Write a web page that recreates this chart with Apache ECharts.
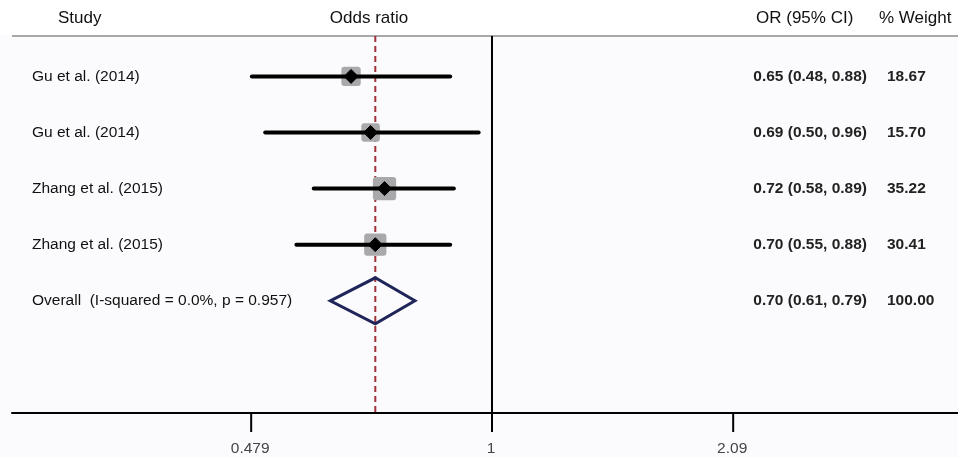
<!DOCTYPE html>
<html><head><meta charset="utf-8">
<script src="https://cdn.jsdelivr.net/npm/echarts@6/dist/echarts.min.js"></script>
<style>html,body{margin:0;padding:0;background:#fcfcfd;}#c{width:958px;height:457px;}</style>
</head><body><div id="c"></div>
<script>
const studies = ['Gu et al. (2014)', 'Gu et al. (2014)', 'Zhang et al. (2015)', 'Zhang et al. (2015)'];
const orValues = [0.65, 0.69, 0.72, 0.70];
const ciLower = [0.48, 0.50, 0.58, 0.55];
const ciUpper = [0.88, 0.96, 0.89, 0.88];
const weights = ['18.67', '15.70', '35.22', '30.41'];
const overallLabel = 'Overall  (I-squared = 0.0%, p = 0.957)';
const overall = { or: 0.70, lo: 0.61, hi: 0.79, weight: '100.00' };
const tickValues = [0.479, 1, 2.09];
const tickLabels = ['0.479', '1', '2.09'];

const fmt = (v) => v.toFixed(2);
const rows = studies.map((s, i) => [orValues[i], ciLower[i], ciUpper[i], i + 1, parseFloat(weights[i])]);
const ROW_MIN = 0.28, ROW_MAX = 7;
const FONT = '"Liberation Sans", Arial, sans-serif';

const chart = echarts.init(document.getElementById('c'), null, { renderer: 'canvas' });
chart.setOption({
  backgroundColor: '#fbfbfd',
  animation: false,
  grid: { left: 12, right: 0, top: 36, bottom: 44 },
  xAxis: {
    type: 'log', logBase: Math.E, min: 0.2306, max: 4.155,
    axisLine: { show: true, lineStyle: { color: '#000', width: 2 } },
    axisTick: { show: false }, axisLabel: { show: false }, splitLine: { show: false }
  },
  yAxis: { type: 'value', inverse: true, min: ROW_MIN, max: ROW_MAX, show: false },
  graphic: [
    { type: 'rect', shape: { x: 0, y: 0, width: 958, height: 35 }, style: { fill: '#ffffff' }, silent: true, z: -1 },
    { type: 'line', shape: { x1: 12, y1: 36, x2: 958, y2: 36 }, style: { stroke: '#a8a8a8', lineWidth: 2 } },
    { type: 'text', x: 58, y: 18, style: { text: 'Study', font: '17px ' + FONT, fill: '#111', verticalAlign: 'middle' } },
    { type: 'text', x: 369, y: 18, style: { text: 'Odds ratio', font: '17px ' + FONT, fill: '#111', align: 'center', verticalAlign: 'middle' } },
    { type: 'text', x: 756, y: 18, style: { text: 'OR (95% CI)', font: '17px ' + FONT, fill: '#111', verticalAlign: 'middle' } },
    { type: 'text', x: 879, y: 18, style: { text: '% Weight', font: '17px ' + FONT, fill: '#111', verticalAlign: 'middle' } }
  ],
  series: [
    {
      type: 'custom', data: [[overall.or, 0]], z: 1,
      renderItem: (params, api) => {
        const top = api.coord([overall.or, ROW_MIN]);
        const bot = api.coord([overall.or, ROW_MAX]);
        const nTop = api.coord([1, ROW_MIN]);
        const nBot = api.coord([1, ROW_MAX]);
        const children = [
          { type: 'line', shape: { x1: top[0], y1: top[1], x2: bot[0], y2: bot[1] },
            style: { stroke: '#a0343a', lineWidth: 2, lineDash: [6, 4] } },
          { type: 'line', shape: { x1: nTop[0], y1: nTop[1], x2: nBot[0], y2: nBot[1] + 18 },
            style: { stroke: '#000', lineWidth: 2 } }
        ];
        tickValues.forEach((t, i) => {
          const p = api.coord([t, ROW_MAX]);
          children.push({ type: 'line', shape: { x1: p[0], y1: p[1], x2: p[0], y2: p[1] + 19 }, style: { stroke: '#000', lineWidth: 2 } });
          children.push({ type: 'text', x: p[0] - 1, y: p[1] + 36, style: { text: tickLabels[i], font: '15.5px ' + FONT, fill: '#444', align: 'center', verticalAlign: 'middle' } });
        });
        return { type: 'group', children };
      }
    },
    {
      type: 'custom', data: rows, z: 3,
      renderItem: (params, api) => {
        const or = api.value(0), lo = api.value(1), hi = api.value(2), r = api.value(3), w = api.value(4);
        const c = api.coord([or, r]);
        const a = api.coord([lo, r]);
        const b = api.coord([hi, r]);
        const s = 9 + 2.4 * Math.sqrt(w);
        const i = params.dataIndex;
        return { type: 'group', children: [
          { type: 'rect', shape: { x: c[0] - s / 2, y: c[1] - s / 2, width: s, height: s, r: 3 }, style: { fill: '#a9a9ab' } },
          { type: 'line', shape: { x1: a[0], y1: a[1], x2: b[0], y2: b[1] }, style: { stroke: '#000', lineWidth: 4, lineCap: 'round' } },
          { type: 'polygon', shape: { points: [[c[0], c[1] - 7], [c[0] + 7, c[1]], [c[0], c[1] + 7], [c[0] - 7, c[1]]] }, style: { fill: '#000', stroke: '#000', lineWidth: 1, lineJoin: 'round' } },
          { type: 'text', x: 32, y: c[1], style: { text: studies[i], font: '15.5px ' + FONT, fill: '#111', verticalAlign: 'middle' } },
          { type: 'text', x: 867, y: c[1], style: { text: fmt(or) + ' (' + fmt(lo) + ', ' + fmt(hi) + ')', font: 'bold 15.5px ' + FONT, fill: '#222', align: 'right', verticalAlign: 'middle' } },
          { type: 'text', x: 887, y: c[1], style: { text: weights[i], font: 'bold 15.5px ' + FONT, fill: '#222', verticalAlign: 'middle' } }
        ] };
      }
    },
    {
      type: 'custom', data: [[overall.or, overall.lo, overall.hi, 5]], z: 3,
      renderItem: (params, api) => {
        const or = api.value(0), lo = api.value(1), hi = api.value(2), r = api.value(3);
        const c = api.coord([or, r]);
        const a = api.coord([lo, r]);
        const b = api.coord([hi, r]);
        return { type: 'group', children: [
          { type: 'polygon', shape: { points: [[a[0], a[1]], [c[0], c[1] - 23], [b[0], b[1]], [c[0], c[1] + 23]] },
            style: { fill: 'none', stroke: '#1f2558', lineWidth: 3, lineJoin: 'miter' } },
          { type: 'text', x: 32, y: c[1], style: { text: overallLabel, font: '15.5px ' + FONT, fill: '#111', verticalAlign: 'middle' } },
          { type: 'text', x: 867, y: c[1], style: { text: fmt(or) + ' (' + fmt(lo) + ', ' + fmt(hi) + ')', font: 'bold 15.5px ' + FONT, fill: '#222', align: 'right', verticalAlign: 'middle' } },
          { type: 'text', x: 887, y: c[1], style: { text: overall.weight, font: 'bold 15.5px ' + FONT, fill: '#222', verticalAlign: 'middle' } }
        ] };
      }
    }
  ]
});
</script></body></html>
